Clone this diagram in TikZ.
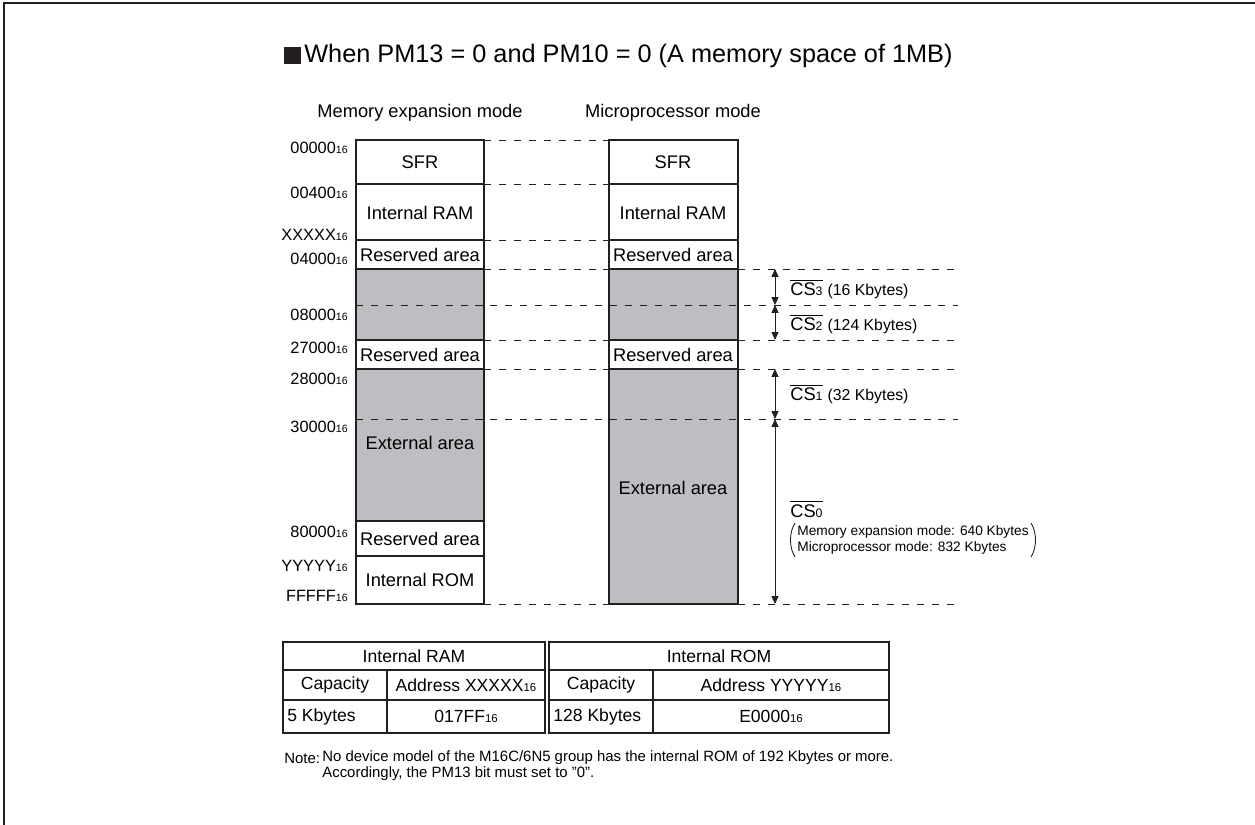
\documentclass[tikz,border=0pt]{standalone}
\usepackage{fontspec}
\setmainfont{Liberation Sans}
\usetikzlibrary{positioning, calc, arrows.meta}
\definecolor{areagray}{RGB}{189,190,193}
\definecolor{inkdark}{RGB}{35,31,32}
\newcommand{\sixteen}{{\fontsize{6}{6}\selectfont 16}}
\newcommand{\tsixteen}{{\fontsize{6.5}{7}\selectfont 16}}
\newcommand{\csn}[1]{$\overline{\mbox{CS{\fontsize{7}{7}\selectfont #1}}}$}

\tikzset{
	memcell/.style={draw=inkdark, line width=1.4pt},
	guide/.style={draw=inkdark, line width=0.5pt, dash pattern=on 4pt off 4.5pt},
	dimline/.style={draw=inkdark, line width=0.5pt, {Triangle[length=4.5pt,width=4pt]}-{Triangle[length=4.5pt,width=4pt]}},
	addr/.style={anchor=east, inner sep=0pt, font=\fontsize{9.3}{10}\selectfont},
	celltext/.style={inner sep=0pt, font=\fontsize{10.4}{12}\selectfont},
	cslabel/.style={anchor=west, inner sep=0pt, font=\fontsize{10.4}{12}\selectfont},
	tblrule/.style={draw=inkdark, line width=0.9pt},
	tbltext/.style={inner sep=0pt, font=\fontsize{10}{12}\selectfont},
	notetext/.style={anchor=west, inner sep=0pt, font=\fontsize{8.5}{10}\selectfont}
}

\begin{document}
\begin{tikzpicture}[x=0.02cm, y=-0.02cm]
	\useasboundingbox (0,0) rectangle (1255,825);
	\draw[inkdark, line width=1.6pt] (4,825) -- (4,3) -- (1255,3);

	% title
	\fill[inkdark] (284,47) rectangle (301,64);
	\node[anchor=west, inner sep=0pt, font=\fontsize{14.4}{16}\selectfont] (title) at (304,56) {When PM13 = 0 and PM10 = 0 (A memory space of 1MB)};

	\coordinate (L) at (356,140);
	\coordinate (R) at (609,140);

	\node[celltext] (headL) at (420,113) {Memory expansion mode};
	\node[celltext] (headR) at (673,113) {Microprocessor mode};

	% gray areas
	\fill[areagray] (356,269) rectangle (484,340);
	\fill[areagray] (356,369) rectangle (484,521);
	\fill[areagray] (609,269) rectangle (738,340);
	\fill[areagray] (609,369) rectangle (738,604);

	% guide lines
	\foreach \y in {140,184,240}
		\draw[guide] (484,\y) -- (609,\y);
	\foreach \y in {269,340,369,604}
		\draw[guide] (484,\y) -- (958,\y);
	\foreach \y in {305,419}
		\draw[guide] (356,\y) -- (958,\y);

	% memory maps
	\foreach \y in {184,240,269,340,369,521,556}
		\draw[memcell] (356,\y) -- (484,\y);
	\draw[memcell] (L) rectangle (484,604);
	\foreach \y in {184,240,269,340,369}
		\draw[memcell] (609,\y) -- (738,\y);
	\draw[memcell] (R) rectangle (738,604);

	\node[celltext] (sfrL) at (420,162) {SFR};
	\node[celltext] (ramL) at (420,213) {Internal RAM};
	\node[celltext] (resL1) at (420,254.5) {Reserved area};
	\node[celltext] (resL2) at (420,354.5) {Reserved area};
	\node[celltext] (extL) at (420,443) {External area};
	\node[celltext] (resL3) at (420,538.5) {Reserved area};
	\node[celltext] (romL) at (420,580) {Internal ROM};

	\node[celltext] (sfrR) at (673,162) {SFR};
	\node[celltext] (ramR) at (673,213) {Internal RAM};
	\node[celltext] (resR1) at (673,254.5) {Reserved area};
	\node[celltext] (resR2) at (673,354.5) {Reserved area};
	\node[celltext] (extR) at (673,488) {External area};

	% addresses
	\node[addr] (a0) at (348,148) {00000\sixteen};
	\node[addr] (a1) at (348,193) {00400\sixteen};
	\node[addr] (a2) at (348,235) {XXXXX\sixteen};
	\node[addr] (a3) at (348,259) {04000\sixteen};
	\node[addr] (a4) at (348,315) {08000\sixteen};
	\node[addr] (a5) at (348,348) {27000\sixteen};
	\node[addr] (a6) at (348,379) {28000\sixteen};
	\node[addr] (a7) at (348,427) {30000\sixteen};
	\node[addr] (a8) at (348,532) {80000\sixteen};
	\node[addr] (a9) at (348,566) {YYYYY\sixteen};
	\node[addr] (a10) at (348,596) {FFFFF\sixteen};

	% chip select ranges
	\coordinate (cs3top) at (775,269);
	\coordinate (cs3bot) at (775,305);
	\coordinate (cs2bot) at (775,340);
	\coordinate (cs1top) at (775,369);
	\coordinate (cs1bot) at (775,419);
	\coordinate (cs0bot) at (775,604);
	\draw[dimline] (cs3top) -- (cs3bot);
	\draw[dimline] (cs3bot) -- (cs2bot);
	\draw[dimline] (cs1top) -- (cs1bot);
	\draw[dimline] (cs1bot) -- (cs0bot);

	\node[cslabel] (cs3) at (790,289) {\csn{3} {\fontsize{9}{10}\selectfont(16 Kbytes)}};
	\node[cslabel] (cs2) at (790,324) {\csn{2} {\fontsize{9}{10}\selectfont(124 Kbytes)}};
	\node[cslabel] (cs1) at (790,394) {\csn{1} {\fontsize{9}{10}\selectfont(32 Kbytes)}};
	\node[cslabel] (cs0) at (790,509) {\csn{0}};
	\node[anchor=west, inner sep=0pt, align=left, font=\fontsize{7.8}{9.2}\selectfont] (cs0note) at (797,540)
		{Memory expansion mode: 640 Kbytes\\Microprocessor mode: 832 Kbytes};
	\draw[inkdark, line width=0.5pt] ($(cs0note.north west)+(-2,-2)$) .. controls ($(cs0note.west)+(-8,-8)$) and ($(cs0note.west)+(-8,8)$) .. ($(cs0note.south west)+(-2,2)$);
	\draw[inkdark, line width=0.5pt] ($(cs0note.north east)+(2,-2)$) .. controls ($(cs0note.east)+(8,-8)$) and ($(cs0note.east)+(8,8)$) .. ($(cs0note.south east)+(2,2)$);

	% tables
	\draw[tblrule] (283,642) rectangle (545,733);
	\draw[tblrule] (283,670) -- (545,670) (283,700) -- (545,700) (387,670) -- (387,733);
	\draw[tblrule] (549,642) rectangle (889,733);
	\draw[tblrule] (549,670) -- (889,670) (549,700) -- (889,700) (653,670) -- (653,733);

	\node[tbltext] (ramhead) at (414,656) {Internal RAM};
	\node[tbltext] (ramcap) at (335,685) {Capacity};
	\node[tbltext] (ramadr) at (466,685) {Address XXXXX\tsixteen};
	\node[tbltext, anchor=west] (ramsize) at (287,716.5) {5 Kbytes};
	\node[tbltext] (ramval) at (466,716.5) {017FF\tsixteen};

	\node[tbltext] (romhead) at (719,656) {Internal ROM};
	\node[tbltext] (romcap) at (601,685) {Capacity};
	\node[tbltext] (romadr) at (771,685) {Address YYYYY\tsixteen};
	\node[tbltext, anchor=west] (romsize) at (553,716.5) {128 Kbytes};
	\node[tbltext] (romval) at (771,716.5) {E0000\tsixteen};

	% note
	\node[notetext] (notehead) at (284,758) {Note:};
	\node[notetext] (note1) at (322,758) {No device model of the M16C/6N5 group has the internal ROM of 192 Kbytes or more.};
	\node[notetext] (note2) at (322,774) {Accordingly, the PM13 bit must set to "0".};
\end{tikzpicture}
\end{document}
